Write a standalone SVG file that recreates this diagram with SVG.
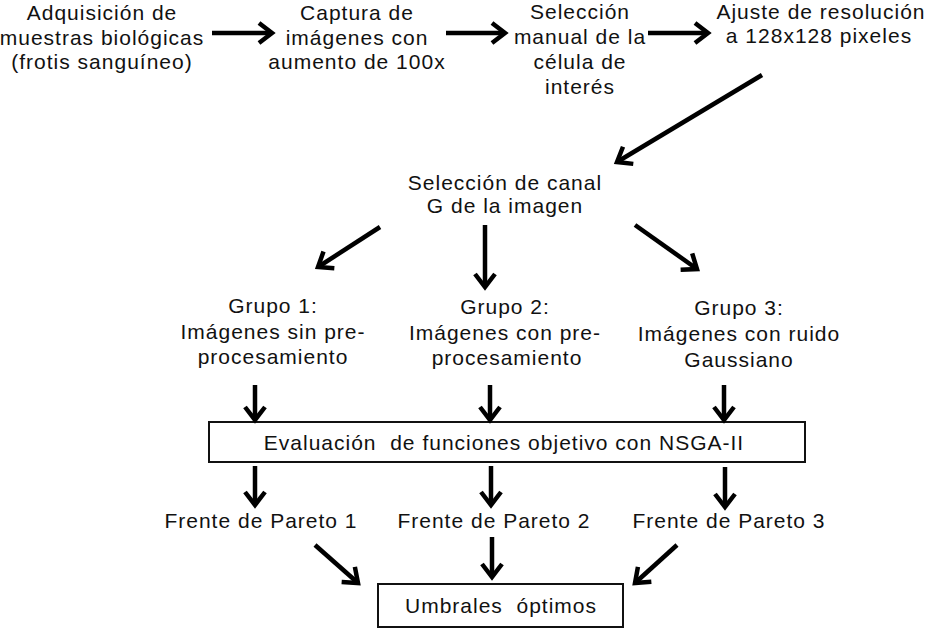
<svg xmlns="http://www.w3.org/2000/svg" width="929" height="629" viewBox="0 0 929 629">
<style>
text{font-family:"Liberation Sans",Arial,sans-serif;font-size:21px;letter-spacing:1px;fill:#111;text-anchor:middle;white-space:pre}
.box{fill:#fff;stroke:#111;stroke-width:2}
.arr{stroke:#000;stroke-width:4.5;fill:none;marker-end:url(#head)}
</style>
<defs>
<marker id="head" markerUnits="userSpaceOnUse" viewBox="-20 -15 30 30" markerWidth="30" markerHeight="30" refX="0" refY="0" orient="auto" overflow="visible">
<path d="M-13,-10 L0,0 L-13,10" fill="none" stroke="#000" stroke-width="4.5" stroke-linejoin="miter"/>
</marker>
</defs>
<rect width="929" height="629" fill="#fff"/>
<g id="n1"><text x="102" y="20">Adquisición de</text><text x="102" y="45">muestras biológicas</text><text x="102" y="69">(frotis sanguíneo)</text></g>
<g id="n2"><text x="357" y="20">Captura de</text><text x="357" y="45">imágenes con</text><text x="357" y="69">aumento de 100x</text></g>
<g id="n3"><text x="580" y="19">Selección</text><text x="580" y="44">manual de la</text><text x="580" y="69">célula de</text><text x="580" y="94">interés</text></g>
<g id="n4"><text x="821" y="19">Ajuste de resolución</text><text x="819" y="43">a 128x128 pixeles</text></g>
<g id="n5"><text x="505" y="190">Selección de canal</text><text x="505" y="213">G de la imagen</text></g>
<g id="n6"><text x="273" y="313">Grupo 1:</text><text x="273" y="339">Imágenes sin pre-</text><text x="273" y="364">procesamiento</text></g>
<g id="n7"><text x="505" y="314">Grupo 2:</text><text x="505" y="340">Imágenes con pre-</text><text x="507" y="365">procesamiento</text></g>
<g id="n8"><text x="739" y="315">Grupo 3:</text><text x="739" y="341">Imágenes con ruido</text><text x="739" y="367">Gaussiano</text></g>
<g id="n9"><rect class="box" x="209" y="422" width="596" height="40"/><text x="504" y="450">Evaluación  de funciones objetivo con NSGA-II</text></g>
<g id="n10"><text x="261" y="528">Frente de Pareto 1</text></g>
<g id="n11"><text x="494" y="528">Frente de Pareto 2</text></g>
<g id="n12"><text x="729" y="528">Frente de Pareto 3</text></g>
<g id="n13"><rect class="box" x="378" y="584" width="245" height="43"/><text x="501" y="613">Umbrales  óptimos</text></g>
<g id="connectors">
<line class="arr" x1="212" y1="33" x2="272" y2="33"/>
<line class="arr" x1="446" y1="33" x2="505" y2="33"/>
<line class="arr" x1="648" y1="33" x2="708" y2="33"/>
<line class="arr" x1="762" y1="75" x2="617" y2="162"/>
<line class="arr" x1="380" y1="227" x2="318" y2="267"/>
<line class="arr" x1="485" y1="225" x2="485" y2="287"/>
<line class="arr" x1="635" y1="225" x2="697" y2="269"/>
<line class="arr" x1="255" y1="385" x2="255" y2="420"/>
<line class="arr" x1="490" y1="385" x2="490" y2="420"/>
<line class="arr" x1="724" y1="385" x2="724" y2="420"/>
<line class="arr" x1="255" y1="466" x2="255" y2="505"/>
<line class="arr" x1="491" y1="466" x2="491" y2="505"/>
<line class="arr" x1="725" y1="467" x2="725" y2="507"/>
<line class="arr" x1="315" y1="545" x2="358" y2="583"/>
<line class="arr" x1="492" y1="537" x2="492" y2="577"/>
<line class="arr" x1="677" y1="545" x2="635" y2="583"/>
</g>
</svg>
